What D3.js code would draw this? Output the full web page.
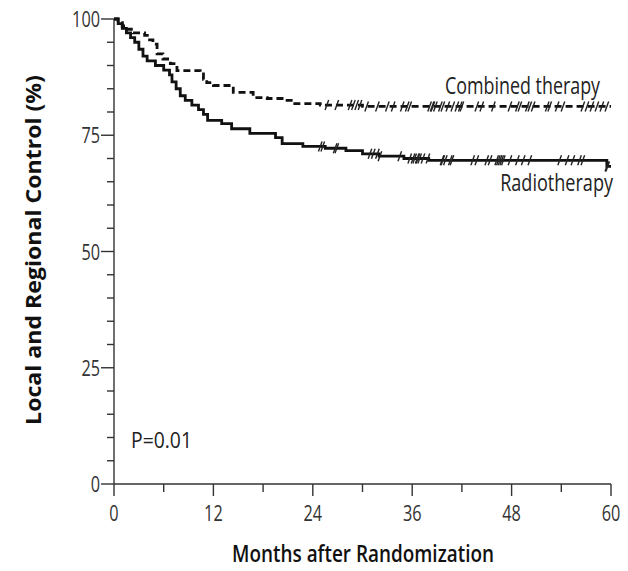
<!DOCTYPE html>
<html>
<head>
<meta charset="utf-8">
<script src="https://cdn.jsdelivr.net/npm/d3@7"></script>
<style>
  html, body { margin: 0; padding: 0; background: #fff; }
  svg { display: block; }
</style>
</head>
<body>
<svg id="chart" width="628" height="571"></svg>
<script>
// ---- Data ----
const radiotherapy = [
  [0,100],[0.5,99],[1,98],[1.5,97],[2,96],[2.5,95],[3,93.5],[3.5,92],[4,91],[5,90],[6,89],
  [6.7,88],[7,86.5],[7.5,85],[8,83.5],[8.6,82.5],[9.4,81.5],[10.2,80.5],[10.8,79.5],[11.3,78.2],
  [13,77.5],[14.2,76.4],[16.4,75.4],[19.5,74.5],[20.3,73.2],[22.8,72.6],[25.5,72.2],[28,71.7],
  [30,71],[32,70.5],[35,70],[38,69.6],[59.5,68.3],[60,68.3]
];
const combined = [
  [0,100],[0.5,99.2],[1,98.5],[1.5,97.8],[2.3,97],[3.7,96.5],[4.3,95.5],[4.7,94.6],[5.2,92.5],
  [5.9,91.4],[6.8,90.4],[7.6,88.9],[10.4,88.2],[10.8,87],[11.2,86.3],[12,85.7],[14.4,84.2],
  [16.8,83.1],[18.5,82.9],[20.9,82.5],[21.6,81.8],[24.9,81.5],[30,81.2],[60,81.2]
];
const combinedCensored = [25.7,26.9,28.5,28.9,29.3,29.7,30.5,31.8,33,33.7,34.8,35.4,35.7,38.1,38.4,38.5,
  38.8,39.4,39.7,40.3,40.9,41.4,41.8,42,43.8,44.4,45.8,47.8,48.7,49,49.9,50.2,50.6,52.3,52.6,53.5,
  54.2,56.6,57.1,57.7,58.3,58.9,59.5];
const radioCensored = [24.9,25.2,26.7,26.9,30.9,31.3,31.8,32.1,34.5,35.7,36.1,36.3,36.6,36.7,36.9,37.3,
  37.9,39.6,39.7,40,40.6,40.8,43.3,43.8,45,45.4,46.2,46.4,46.6,46.8,47,47.8,48.7,49.4,50.2,53.8,54.7,
  55.4,56.2,56.6,59.5,59.6];
const xTicks = [0,12,24,36,48,60];
const xMinorTicks = [6,18,30,42,54];
const yTicks = [0,25,50,75,100];
const yMinorTicks = [5,10,15,20,30,35,40,45,55,60,65,70,80,85,90,95];
const seriesLabels = ["Combined therapy", "Radiotherapy"];
const pLabel = "P=0.01";
const xTitle = "Months after Randomization";
const yTitle = "Local and Regional Control (%)";

// ---- Drawing ----
const svg = d3.select("#chart");
const x = d3.scaleLinear().domain([0,60]).range([114,611]);
const y = d3.scaleLinear().domain([0,100]).range([484,19]);
const axisColor = "#333";
const FONT = "'Open Sans', 'Noto Sans', 'DejaVu Sans', sans-serif";

// place text at (px,py) with horizontal compression
function label(parent, txt, px, py, opts) {
  const t = parent.append("text")
    .attr("font-family", FONT)
    .attr("font-size", opts.size)
    .attr("font-weight", opts.weight || 400)
    .attr("fill", opts.fill || "#222")
    .attr("text-anchor", opts.anchor || "start")
    .text(txt);
  let s = opts.scale || 1;
  if (opts.width) s = opts.width / t.node().getComputedTextLength();
  const rot = opts.rotate ? ` rotate(${opts.rotate})` : "";
  t.attr("transform", `translate(${px},${py})${rot} scale(${s.toFixed(3)},1)`);
  return t;
}

// x axis
const gx = svg.append("g").attr("transform", `translate(0,${y(0)})`);
gx.append("line").attr("x1", x(0)).attr("x2", x(60)).attr("stroke", axisColor).attr("stroke-width", 1.4);
gx.selectAll(".maj").data(xTicks).join("line")
  .attr("x1", d => x(d)).attr("x2", d => x(d)).attr("y1", 0).attr("y2", 12)
  .attr("stroke", axisColor).attr("stroke-width", 1.4);
gx.selectAll(".min").data(xMinorTicks).join("line")
  .attr("x1", d => x(d)).attr("x2", d => x(d)).attr("y1", 0).attr("y2", 8)
  .attr("stroke", axisColor).attr("stroke-width", 1.4);
xTicks.forEach(d => label(gx, d, x(d), 37, {size: 22, anchor: "middle", scale: 0.74, fill: "#333"}));

// y axis
const gy = svg.append("g").attr("transform", `translate(${x(0)},0)`);
gy.append("line").attr("y1", y(0)).attr("y2", y(100)).attr("stroke", axisColor).attr("stroke-width", 1.4);
gy.selectAll(".maj").data(yTicks).join("line")
  .attr("y1", d => y(d)).attr("y2", d => y(d)).attr("x1", 0).attr("x2", -13)
  .attr("stroke", axisColor).attr("stroke-width", 1.4);
gy.selectAll(".min").data(yMinorTicks).join("line")
  .attr("y1", d => y(d)).attr("y2", d => y(d)).attr("x1", 0).attr("x2", -7)
  .attr("stroke", axisColor).attr("stroke-width", 1.4);
yTicks.forEach(d => label(gy, d, -14, y(d) + 8, {size: 22, anchor: "end", scale: 0.74, fill: "#333"}));

// curves
const line = d3.line().x(d => x(d[0])).y(d => y(d[1])).curve(d3.curveStepAfter);
svg.append("path").datum(radiotherapy).attr("d", line)
  .attr("fill", "none").attr("stroke", "#111").attr("stroke-width", 2.8);
svg.append("path").datum(combined).attr("d", line)
  .attr("fill", "none").attr("stroke", "#111").attr("stroke-width", 2.8)
  .attr("stroke-dasharray", "7,4");

function stepValue(data, t) {
  let v = data[0][1];
  for (const d of data) { if (d[0] <= t) v = d[1]; }
  return v;
}
function censor(data, times) {
  svg.append("g").selectAll("line").data(times).join("line")
    .attr("x1", d => x(d) - 1.8).attr("x2", d => x(d) + 1.8)
    .attr("y1", d => y(stepValue(data, d)) + 5).attr("y2", d => y(stepValue(data, d)) - 5)
    .attr("stroke", "#222").attr("stroke-width", 1.4);
}
censor(combined, combinedCensored);
censor(radiotherapy, radioCensored);

// labels
label(svg, seriesLabels[0], 600, 94, {size: 23, anchor: "end", width: 155});
label(svg, seriesLabels[1], 613, 191, {size: 23, anchor: "end", width: 113});
label(svg, pLabel, 131, 448, {size: 21, width: 61});
label(svg, xTitle, 363, 562, {size: 23, weight: 600, anchor: "middle", width: 262, fill: "#111"});
label(svg, yTitle, 41, 250, {size: 21, weight: 700, anchor: "middle", width: 350, rotate: -90, fill: "#111"});
</script>
</body>
</html>
